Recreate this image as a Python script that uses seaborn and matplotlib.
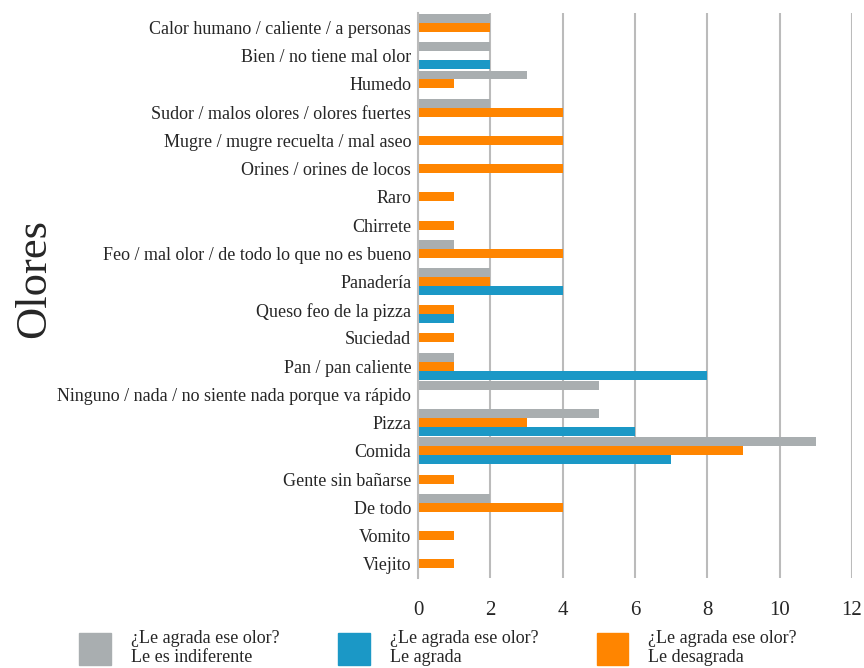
import pandas as pd
import seaborn as sns
import matplotlib.pyplot as plt
from matplotlib.patches import Patch

# Data
categories = [
    'Calor humano / caliente / a personas', 'Bien / no tiene mal olor', 'Humedo',
    'Sudor / malos olores / olores fuertes', 'Mugre / mugre recuelta / mal aseo',
    'Orines / orines de locos', 'Raro', 'Chirrete',
    'Feo / mal olor / de todo lo que no es bueno', 'Panadería',
    'Queso feo de la pizza', 'Suciedad', 'Pan / pan caliente',
    'Ninguno / nada / no siente nada porque va rápido', 'Pizza', 'Comida',
    'Gente sin bañarse', 'De todo', 'Vomito', 'Viejito',
]
indiferente = [2, 2, 3, 2, 0, 0, 0, 0, 1, 2, 0, 0, 1, 5, 5, 11, 0, 2, 0, 0]
desagrada = [2, 0, 1, 4, 4, 4, 1, 1, 4, 2, 1, 1, 1, 0, 3, 9, 1, 4, 1, 1]
agrada = [0, 2, 0, 0, 0, 0, 0, 0, 0, 4, 1, 0, 8, 0, 6, 7, 0, 0, 0, 0]

series_names = ['¿Le agrada ese olor?\nLe es indiferente',
                '¿Le agrada ese olor?\nLe agrada',
                '¿Le agrada ese olor?\nLe desagrada']
colors = {series_names[0]: '#A9AEB0', series_names[1]: '#1B98C6',
          series_names[2]: '#FF8500'}

rows = []
for name, vals in [(series_names[0], indiferente), (series_names[2], desagrada),
                   (series_names[1], agrada)]:
    for c, v in zip(categories, vals):
        if v > 0:
            rows.append({'Olor': c, 'Serie': name, 'Valor': v})
df = pd.DataFrame(rows)

sns.set_style('white')
plt.rcParams['font.family'] = ['Liberation Serif', 'DejaVu Serif']

fig = plt.figure(figsize=(8.64, 6.68), dpi=100)
ax = fig.add_axes([0.484, 0.135, 0.502, 0.845])

sns.barplot(data=df, y='Olor', x='Valor', hue='Serie', order=categories,
            hue_order=[series_names[0], series_names[2], series_names[1]],
            palette=colors, saturation=1, orient='h', width=0.95, linewidth=0,
            ax=ax, legend=False)

ax.set_xlim(0, 12)
ax.set_xticks(range(0, 13, 2))
ax.grid(axis='x', color='#BBBBBB', linewidth=1.5)
ax.set_axisbelow(True)
for s in ['top', 'right', 'bottom']:
    ax.spines[s].set_visible(False)
ax.spines['left'].set_color('#BBBBBB')
ax.spines['left'].set_linewidth(1.5)
ax.tick_params(axis='x', length=9, color='#BBBBBB', width=1.5, pad=8,
               labelsize=15)
ax.tick_params(axis='y', length=0, pad=5, labelsize=13)
ax.set_xlabel('')
ax.set_ylabel('Olores', fontsize=32)
ax.yaxis.set_label_coords(-0.84, 0.53)

handles = [Patch(color=colors[n]) for n in series_names]
fig.legend(handles, series_names, loc='lower left', bbox_to_anchor=(0.073, -0.022),
           ncol=3, frameon=False, fontsize=13, handlelength=1.75,
           handleheight=2.4, columnspacing=3.25, handletextpad=1.1)

plt.savefig('out.png', dpi=100)
plt.close()
